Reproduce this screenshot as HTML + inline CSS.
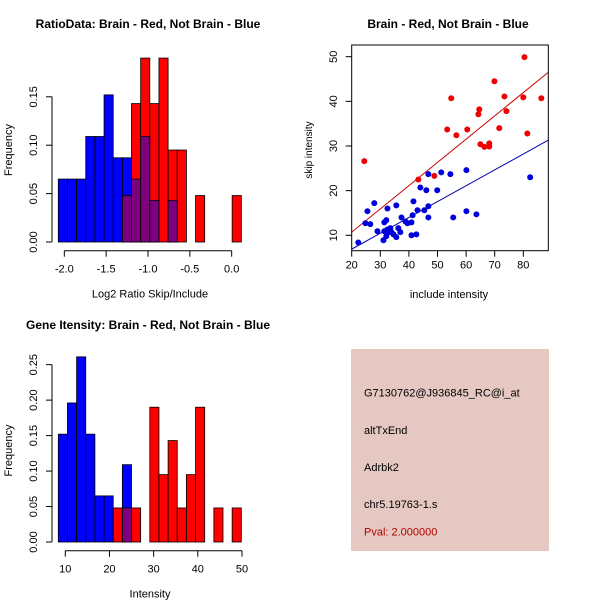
<!DOCTYPE html>
<html><head><meta charset="utf-8"><style>
html,body{margin:0;padding:0;background:#fff}
svg{display:block;font-family:"Liberation Sans",sans-serif}
</style></head><body>
<svg id="c" width="600" height="600" viewBox="0 0 600 600"></svg>
<script>
// ---- data ----
const ratioBlue = [0.065,0.065,0.065,0.109,0.109,0.152,0.087,0.087,0.065,0.109,0.043,0,0.043,0,0,0,0,0,0,0];
const ratioRed  = [0,0,0,0,0,0,0,0.048,0.143,0.190,0.143,0.190,0.095,0.095,0,0.048,0,0,0,0.048];
const ratioRange = [-2.072,0.115];
const ratioXTicks = [-2.0,-1.5,-1.0,-0.5,0.0];
const ratioXLabels = ["-2.0","-1.5","-1.0","-0.5","0.0"];
const ratioYTicks = [0,0.05,0.10,0.15];
const ratioYLabels = ["0.00","0.05","0.10","0.15"];

const intBlue = [0.152,0.196,0.261,0.152,0.065,0.065,0,0.109,0,0,0,0,0,0,0,0,0,0,0,0];
const intRed  = [0,0,0,0,0,0,0.048,0.048,0.048,0,0.190,0.095,0.143,0.048,0.095,0.190,0,0.048,0,0.048];
const intRange = [8.42,49.85];
const intXTicks = [10,20,30,40,50];
const intYTicks = [0,0.05,0.10,0.15,0.20,0.25];
const intYLabels = ["0.00","0.05","0.10","0.15","0.20","0.25"];

const redX = [24.4,43.3,48.9,53.4,54.8,56.6,60.4,64.3,64.6,65.0,66.4,68.1,68.1,69.9,71.6,73.4,74.1,80.4,80.0,81.4,86.3];
const redY = [26.6,22.5,23.3,33.7,40.7,32.4,33.7,37.1,38.2,30.4,29.8,30.6,29.9,44.5,34.0,41.1,37.8,49.9,40.9,32.8,40.7];
const blueX = [22.3,25.5,24.8,26.5,27.9,29.0,31.1,32.5,31.4,32.1,31.4,32.5,32.9,32.1,33.5,33.9,34.6,35.6,35.6,36.3,37.0,37.4,38.8,39.5,40.9,40.9,41.3,41.6,42.6,43.0,44.0,45.4,46.1,46.8,46.8,46.8,49.9,51.3,54.5,55.5,60.1,60.1,63.6,82.4];
const blueY = [8.4,15.4,12.7,12.5,17.2,10.9,8.9,16.0,12.9,13.4,10.9,11.3,10.7,9.8,11.6,10.7,10.2,16.7,9.6,11.6,10.7,14.0,13.1,12.7,12.9,10.0,14.5,17.6,10.2,15.6,20.7,15.6,20.1,23.7,14.0,16.5,20.1,24.1,23.7,14.0,24.6,15.4,14.7,23.0];
const redFit = [0.28,0.521];   // intercept, slope
const blueFit = [-0.2,0.355];
const scXTicks = [20,30,40,50,60,70,80];
const scYTicks = [10,20,30,40,50];

// ---- helpers ----
const svg = document.getElementById('c');
const NS = 'http://www.w3.org/2000/svg';
function mk(tag, attrs, parent){ const e=document.createElementNS(NS,tag); for(const k in attrs) e.setAttribute(k,attrs[k]); (parent||svg).appendChild(e); return e; }
function txt(s, x, y, attrs, parent){ const t=mk('text',Object.assign({x:x,y:y,'font-size':11,fill:'#000','text-anchor':'middle'},attrs||{}),parent); t.textContent=s; return t; }

function histogram(name, blue, red, range, xt, xl, yt, yl, geom, title, xlab){
  const g = mk('g',{});
  
  
  const n = blue.length;
  const sx = v => geom.x0 + (v-range[0])/(range[1]-range[0])*(geom.x1-geom.x0);
  const sy = v => geom.yBase - v*geom.ppu;
  const bw = (range[1]-range[0])/n;
  for(let i=0;i<n;i++){
    const xa = sx(range[0]+i*bw), xb = sx(range[0]+(i+1)*bw);
    if(blue[i]>0){ const r=mk('rect',{x:xa,y:sy(blue[i]),width:xb-xa,height:blue[i]*geom.ppu,fill:'#0000FF',stroke:'#000','stroke-width':0.8},g);
        }
  }
  for(let i=0;i<n;i++){
    const xa = sx(range[0]+i*bw), xb = sx(range[0]+(i+1)*bw);
    if(red[i]>0){ const r=mk('rect',{x:xa,y:sy(red[i]),width:xb-xa,height:red[i]*geom.ppu,fill:'#FF0000',stroke:'#000','stroke-width':0.8},g);
        }
  }
  for(let i=0;i<n;i++){
    const m = Math.min(blue[i],red[i]);
    if(m>0){ const xa = sx(range[0]+i*bw), xb = sx(range[0]+(i+1)*bw);
      const r=mk('rect',{x:xa,y:sy(m),width:xb-xa,height:m*geom.ppu,fill:'#7F007F',stroke:'#000','stroke-width':0.8},g);
        }
  }
  // y axis
  const ya = mk('g',{},g);
   
  mk('line',{x1:52,x2:52,y1:sy(yt[0]),y2:sy(yt[yt.length-1]),stroke:'#000'},ya);
  yt.forEach((v,i)=>{ mk('line',{x1:46,x2:52,y1:sy(v),y2:sy(v),stroke:'#000'},ya);
    txt(yl[i],37,sy(v),{transform:`rotate(-90 37 ${sy(v)})`},ya); });
  // x axis
  const xa = mk('g',{},g);
   
  mk('line',{x1:sx(xt[0]),x2:sx(xt[xt.length-1]),y1:geom.axisY,y2:geom.axisY,stroke:'#000'},xa);
  xt.forEach((v,i)=>{ mk('line',{x1:sx(v),x2:sx(v),y1:geom.axisY,y2:geom.axisY+6,stroke:'#000'},xa);
    txt(xl[i],sx(v),geom.axisY+22,{},xa); });
  const t=txt(title,148,geom.titleY,{'font-weight':'bold','font-size':12},g);
   
  const xt2=txt(xlab,150,geom.axisY+47,{},g);
   
  const cy=(geom.yBase+geom.titleY)/2+15;
  const yt2=txt('Frequency',12,cy,{transform:`rotate(-90 12 ${cy})`},g);
   
}

histogram('ratio-histogram', ratioBlue, ratioRed, ratioRange, ratioXTicks, ratioXLabels, ratioYTicks, ratioYLabels,
  {x0:58.3,x1:241.3,yBase:242,ppu:48.4/0.05,axisY:250.7,titleY:28}, 'RatioData: Brain - Red, Not Brain - Blue','Log2 Ratio Skip/Include');
histogram('intensity-histogram', intBlue, intRed, intRange, intXTicks, intXTicks.map(String), intYTicks, intYLabels,
  {x0:58.3,x1:241.3,yBase:542,ppu:35.47/0.05,axisY:550.7,titleY:329}, 'Gene Itensity: Brain - Red, Not Brain - Blue','Intensity');

// ---- scatter ----
const sc = mk('g',{});
 
const box={x0:351.7,x1:548.3,y0:45,y1:250.7};
const px = v => 351.7 + (v-20)*2.86;
const py = v => 235.3 - (v-10)*4.465;
const clip = mk('clipPath',{id:'scclip'},sc);
mk('rect',{x:box.x0,y:box.y0,width:box.x1-box.x0,height:box.y1-box.y0},clip);
const xmin=20, xmax=88.7;
const l1=mk('line',{x1:px(xmin),y1:py(redFit[0]+redFit[1]*xmin),x2:px(xmax),y2:py(redFit[0]+redFit[1]*xmax),stroke:'#CC0000','clip-path':'url(#scclip)'},sc);
 
const l2=mk('line',{x1:px(xmin),y1:py(blueFit[0]+blueFit[1]*xmin),x2:px(xmax),y2:py(blueFit[0]+blueFit[1]*xmax),stroke:'#0000AA','clip-path':'url(#scclip)'},sc);
 
redX.forEach((x,i)=>{ const c=mk('circle',{cx:px(x),cy:py(redY[i]),r:3,fill:'#EE0000'},sc);
    });
blueX.forEach((x,i)=>{ const c=mk('circle',{cx:px(x),cy:py(blueY[i]),r:3,fill:'#0000DD'},sc);
    });
const fr=mk('rect',{x:box.x0,y:box.y0,width:box.x1-box.x0,height:box.y1-box.y0,fill:'none',stroke:'#000'},sc);
 
scXTicks.forEach(v=>{ mk('line',{x1:px(v),x2:px(v),y1:box.y1,y2:box.y1+6,stroke:'#000'},sc); txt(String(v),px(v),box.y1+18,{},sc); });
scYTicks.forEach(v=>{ mk('line',{x1:box.x0-6,x2:box.x0,y1:py(v),y2:py(v),stroke:'#000'},sc); txt(String(v),337,py(v),{transform:`rotate(-90 337 ${py(v)})`},sc); });
const st=txt('Brain - Red, Not Brain - Blue',448,28,{'font-weight':'bold','font-size':12},sc);
 
const sxl=txt('include intensity',449,298,{},sc);
 
const syl=txt('skip intensity',312,150,{transform:'rotate(-90 312 150)','font-size':10},sc);
 

// ---- info box ----
const ib = mk('g',{});
 
mk('rect',{x:351,y:349,width:198,height:202,fill:'#E6C8C2'},ib);
const lines=[['G7130762@J936845_RC@i_at',396.5,'#000','probe-id'],['altTxEnd',434,'#000','event-type'],['Adrbk2',471,'#000','gene-name'],['chr5.19763-1.s',508,'#000','location'],['Pval: 2.000000',535.5,'#B00000','p-value']];
lines.forEach(l=>{ const t=txt(l[0],364,l[1],{'text-anchor':'start',fill:l[2],'font-size':11},ib);
    });
</script>
</body></html>
